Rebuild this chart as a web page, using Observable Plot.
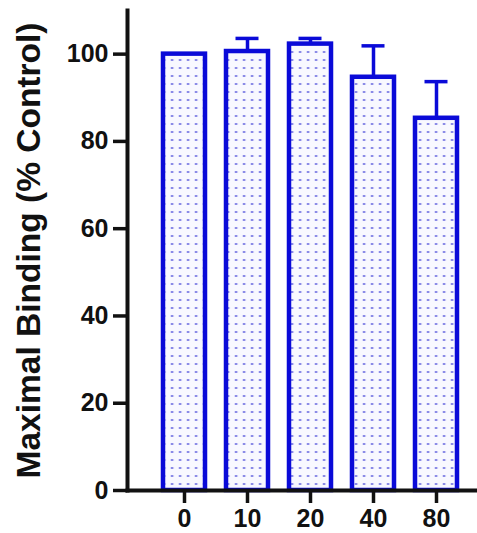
<!DOCTYPE html>
<html>
<head>
<meta charset="utf-8">
<script src="https://cdn.jsdelivr.net/npm/d3@7"></script>
<script src="https://cdn.jsdelivr.net/npm/@observablehq/plot@0.6"></script>
<style>
  html, body { margin: 0; padding: 0; background: #fff; }
  svg text { font-weight: bold; }
</style>
</head>
<body>
<div id="chart"></div>
<script>
// Data
const doses = ["0", "10", "20", "40", "80"];
const means = [100, 100.6, 102.3, 94.7, 85.3];
const uppers = [100, 103.6, 103.6, 101.9, 93.7];
const yTicks = [0, 20, 40, 60, 80, 100];
const yLabel = "Maximal Binding (% Control)";

const data = doses.map((d, i) => ({dose: d, mean: means[i], upper: uppers[i]}));
const errs = data.filter(d => d.upper > d.mean);

const blue = "#0a0ad8";
const ink = "#111";
const font = "'Liberation Sans', Arial, sans-serif";

const chart = Plot.plot({
  width: 477,
  height: 533,
  marginLeft: 127,
  marginRight: 0,
  marginTop: 10,
  marginBottom: 43,
  style: {fontFamily: font, color: ink, background: "#fff", overflow: "visible"},
  x: {type: "band", domain: doses, paddingInner: 0.34, paddingOuter: 0.4045, align: 0.637},
  y: {domain: [0, 110]},
  marks: [
    Plot.barY(data, {x: "dose", y: "mean", fill: "url(#dots)", stroke: blue, strokeWidth: 4.5}),
    Plot.ruleX(errs, {x: "dose", y1: "mean", y2: "upper", stroke: blue, strokeWidth: 3.5}),
    Plot.tickY(errs, {x: "dose", y: "upper", stroke: blue, strokeWidth: 3.5, insetLeft: 9.5, insetRight: 9.5}),
    Plot.frame({anchor: "left", stroke: ink, strokeWidth: 4, strokeLinecap: "square"}),
    Plot.frame({anchor: "bottom", stroke: ink, strokeWidth: 4, strokeLinecap: "square"}),
    Plot.axisY(yTicks, {tickSize: 14, tickPadding: 5, strokeWidth: 3.5, stroke: ink, fill: ink, fontSize: 25, label: null}),
    Plot.axisY({ticks: [50], tickSize: 0, tickFormat: () => "", label: yLabel, labelAnchor: "center", labelArrow: "none", labelOffset: 111, fontSize: 33.5, fill: ink}),
    Plot.axisX({tickSize: 13, tickPadding: 6, strokeWidth: 3.5, stroke: ink, fill: ink, fontSize: 25, label: null})
  ]
});

// Dotted fill pattern used by the bars
const ns = "http://www.w3.org/2000/svg";
const defs = document.createElementNS(ns, "defs");
defs.innerHTML = `
  <pattern id="dots" patternUnits="userSpaceOnUse" width="8" height="8">
    <rect width="8" height="8" fill="#f8f8ff"></rect>
    <rect x="3" y="3" width="2.2" height="2" fill="#6a6ae0"></rect>
    <rect x="2" y="3.3" width="4.2" height="1.4" fill="#b8b8f0" opacity="0.6"></rect>
  </pattern>`;
chart.insertBefore(defs, chart.firstChild);

document.getElementById("chart").appendChild(chart);
</script>
</body>
</html>
